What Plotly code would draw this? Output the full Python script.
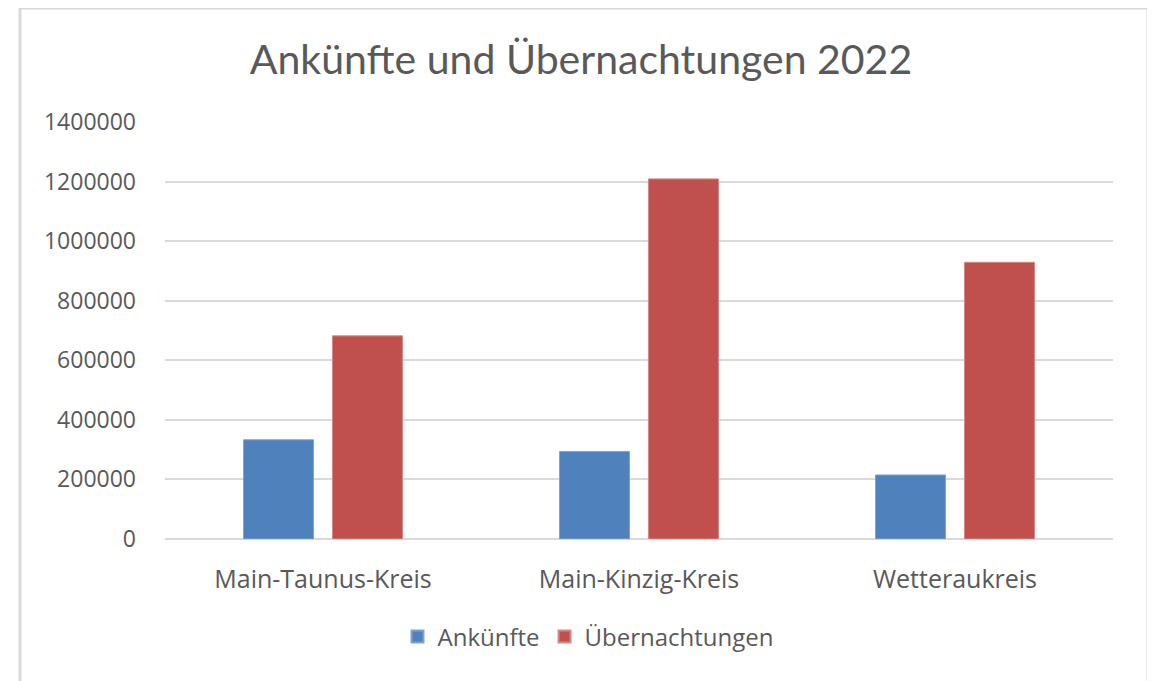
import plotly.graph_objects as go

categories = ["Main-Taunus-Kreis", "Main-Kinzig-Kreis", "Wetteraukreis"]
ankuenfte = [333000, 294000, 215000]
uebernachtungen = [682000, 1209000, 929000]
tick_values = [0, 200000, 400000, 600000, 800000, 1000000, 1200000, 1400000]
tick_labels = ["0", "200000", "400000", "600000", "800000", "1000000", "1200000", "1400000"]

W, H = 1155, 681
OFF = 8  # page body margin offset
ML, MR, MT, MB = 165 - OFF, 42 + OFF, 122 - OFF, 142 + OFF
pw, ph = W - ML - MR, H - MT - MB

def px(x):
    return (x - OFF - ML) / pw

def py(y):
    return (H - MB - (y - OFF)) / ph

font_main = "Open Sans"
txt = "#595959"

fig = go.Figure()
fig.add_trace(go.Bar(name="Ankünfte", x=categories, y=ankuenfte,
                     marker=dict(color="#4F81BD", line=dict(color="#7FA3D1", width=1))))
fig.add_trace(go.Bar(name="Übernachtungen", x=categories, y=uebernachtungen,
                     marker=dict(color="#C0504D", line=dict(color="#D48784", width=1))))

fig.update_layout(
    width=W, height=H,
    margin=dict(l=ML, r=MR, t=MT, b=MB),
    paper_bgcolor="white", plot_bgcolor="white",
    barmode="group", bargap=0.437, bargroupgap=0.213,
    title=dict(text="Ankünfte und Übernachtungen 2022", xref="paper", x=px(581), xanchor="center",
               yref="container", y=1 - (60 - OFF) / H, yanchor="middle",
               font=dict(family="Lato", size=41, color=txt)),
    showlegend=True,
    legend=dict(orientation="h", x=px(588), xanchor="center", y=py(637), yanchor="middle",
                font=dict(family=font_main, size=24, color=txt), itemsizing="constant",
                traceorder="normal"),
    xaxis=dict(showgrid=False, showline=False, ticks="", ticklabelstandoff=23,
               tickfont=dict(family=font_main, size=25, color=txt)),
    yaxis=dict(range=[0, 1400000], tickvals=tick_values, ticktext=tick_labels,
               showgrid=True, gridcolor="#D9D9D9", gridwidth=2,
               zeroline=True, zerolinecolor="#D9D9D9", zerolinewidth=2,
               showline=False, ticks="", ticklabelstandoff=28,
               tickfont=dict(family=font_main, size=23, color=txt)),
    shapes=[dict(type="rect", xref="paper", yref="paper",
                 x0=px(20), x1=px(1148), y0=py(700), y1=py(8),
                 line=dict(color="#D9D9D9", width=3), fillcolor="rgba(0,0,0,0)", layer="below")],
)

fig.write_html("out.html")
